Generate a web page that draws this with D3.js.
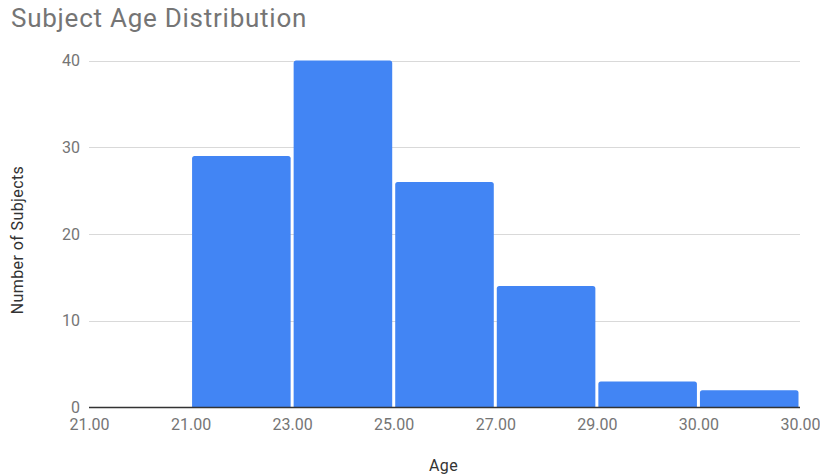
<!DOCTYPE html>
<html>
<head>
<meta charset="utf-8">
<script src="https://cdn.jsdelivr.net/npm/d3@7"></script>
<style>
  html, body { margin: 0; padding: 0; background: #fff; }
  svg { display: block; font-family: Roboto, "Noto Sans", sans-serif; }
</style>
</head>
<body>
<svg id="chart" width="820" height="476"></svg>
<script>
// Histogram bins: counts per bin and the edge labels between bins
const binCounts = [0, 29, 40, 26, 14, 3, 2];
const edgeLabels = ["21.00", "21.00", "23.00", "25.00", "27.00", "29.00", "30.00", "30.00"];
const yTicks = [0, 10, 20, 30, 40];

const W = 820, H = 476;
const margin = { left: 89, right: 20, top: 60.5, bottom: 68.5 };
const svg = d3.select("#chart");

const x = d3.scaleLinear().domain([0, binCounts.length]).range([margin.left, W - margin.right]);
const y = d3.scaleLinear().domain([0, 40]).range([H - margin.bottom, margin.top]);

// Title
svg.append("text")
  .attr("x", 11).attr("y", 27)
  .attr("font-size", 26).attr("letter-spacing", 0.75).attr("fill", "#757575")
  .text("Subject Age Distribution");

// Horizontal gridlines
svg.append("g").selectAll("line").data(yTicks.filter(d => d > 0)).join("line")
  .attr("x1", x(0)).attr("x2", x(binCounts.length))
  .attr("y1", d => Math.round(y(d)) + 0.5).attr("y2", d => Math.round(y(d)) + 0.5)
  .attr("stroke", "#d9d9d9").attr("stroke-width", 1.2);

// Y axis labels
const yAxis = d3.axisLeft(y).tickValues(yTicks).tickSize(0).tickPadding(9);
const gy = svg.append("g").attr("transform", `translate(${x(0)},0)`).call(yAxis);
gy.select(".domain").remove();
gy.selectAll("text").attr("font-size", 16).attr("fill", "#757575").attr("font-family", "Roboto, sans-serif");

// Bars with rounded top corners
const r = 2.5, gap = 1.5;
function barPath(i, v) {
  const x0 = x(i) + gap, x1 = x(i + 1) - gap;
  const yb = y(0), yt = y(v);
  const rr = Math.min(r, (yb - yt) / 2, (x1 - x0) / 2);
  return `M${x0},${yb}V${yt + rr}Q${x0},${yt} ${x0 + rr},${yt}H${x1 - rr}Q${x1},${yt} ${x1},${yt + rr}V${yb}Z`;
}
svg.append("g").selectAll("path").data(binCounts.map((v, i) => ({ v, i })).filter(d => d.v > 0)).join("path")
  .attr("d", d => barPath(d.i, d.v))
  .attr("fill", "#4285f4");

// Baseline
svg.append("line")
  .attr("x1", x(0)).attr("x2", x(binCounts.length))
  .attr("y1", y(0)).attr("y2", y(0))
  .attr("stroke", "#333").attr("stroke-width", 1.5);

// X axis: bin edge labels
const xAxis = d3.axisBottom(x).tickValues(d3.range(edgeLabels.length))
  .tickFormat(i => edgeLabels[i]).tickSize(0).tickPadding(11);
const gx = svg.append("g").attr("transform", `translate(0,${y(0)})`).call(xAxis);
gx.select(".domain").remove();
gx.selectAll("text").attr("font-size", 16).attr("fill", "#757575").attr("font-family", "Roboto, sans-serif");

// Axis titles
svg.append("text")
  .attr("x", (x(0) + x(binCounts.length)) / 2 - 1).attr("y", 471)
  .attr("text-anchor", "middle").attr("font-size", 16).attr("letter-spacing", 0.4).attr("fill", "#333")
  .text("Age");

svg.append("text")
  .attr("transform", `translate(23,240) rotate(-90)`)
  .attr("text-anchor", "middle").attr("font-size", 16).attr("letter-spacing", 0.4).attr("fill", "#333")
  .text("Number of Subjects");
</script>
</body>
</html>
